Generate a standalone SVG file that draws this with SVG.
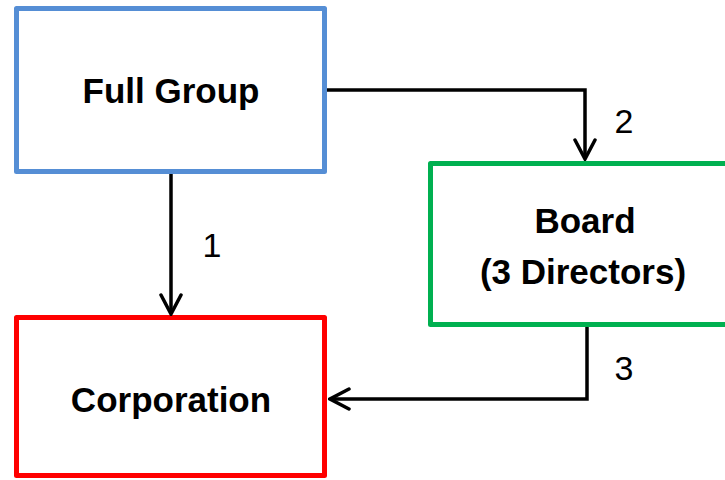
<svg xmlns="http://www.w3.org/2000/svg" width="725" height="480" viewBox="0 0 725 480">
<style>
.box{fill:#fff;stroke-width:5;stroke-linejoin:round}
.t{font-family:"Liberation Sans",Arial,sans-serif;font-weight:bold;font-size:35px;fill:#000;text-anchor:middle}
.n{font-family:"Liberation Sans",Arial,sans-serif;font-size:34px;fill:#000;text-anchor:middle}
.c{fill:none;stroke:#000;stroke-width:3.5;stroke-linejoin:miter}
</style>
<defs>
<marker id="ah" markerUnits="userSpaceOnUse" viewBox="-22 -12 24 24" refX="0" refY="0" markerWidth="24" markerHeight="24" orient="auto">
<path d="M-19,-10 L0,0 L-19,10" fill="none" stroke="#000" stroke-width="3.5" stroke-linecap="round" stroke-linejoin="miter"/>
</marker>
</defs>
<rect width="725" height="480" fill="#fff"/>
<g id="full-group">
<rect class="box" x="16.5" y="8.5" width="308" height="163" stroke="#558ED5"/>
<text class="t" x="171" y="103">Full Group</text>
</g>
<g id="board">
<rect class="box" x="430.5" y="163.5" width="300" height="161" stroke="#00B050"/>
<text class="t" x="585" y="233">Board</text>
<text class="t" x="583" y="284">(3 Directors)</text>
</g>
<g id="corporation">
<rect class="box" x="16.5" y="317.5" width="308" height="158" stroke="#FF0000"/>
<text class="t" x="171" y="412">Corporation</text>
</g>
<g id="connectors">
<path class="c" d="M171,174 L171,314" marker-end="url(#ah)"/>
<path class="c" d="M327,90 L585,90 L585,159" marker-end="url(#ah)"/>
<path class="c" d="M587,327 L587,399 L330,399" marker-end="url(#ah)"/>
<text class="n" x="212" y="257">1</text>
<text class="n" x="624" y="133">2</text>
<text class="n" x="624" y="380">3</text>
</g>
</svg>
